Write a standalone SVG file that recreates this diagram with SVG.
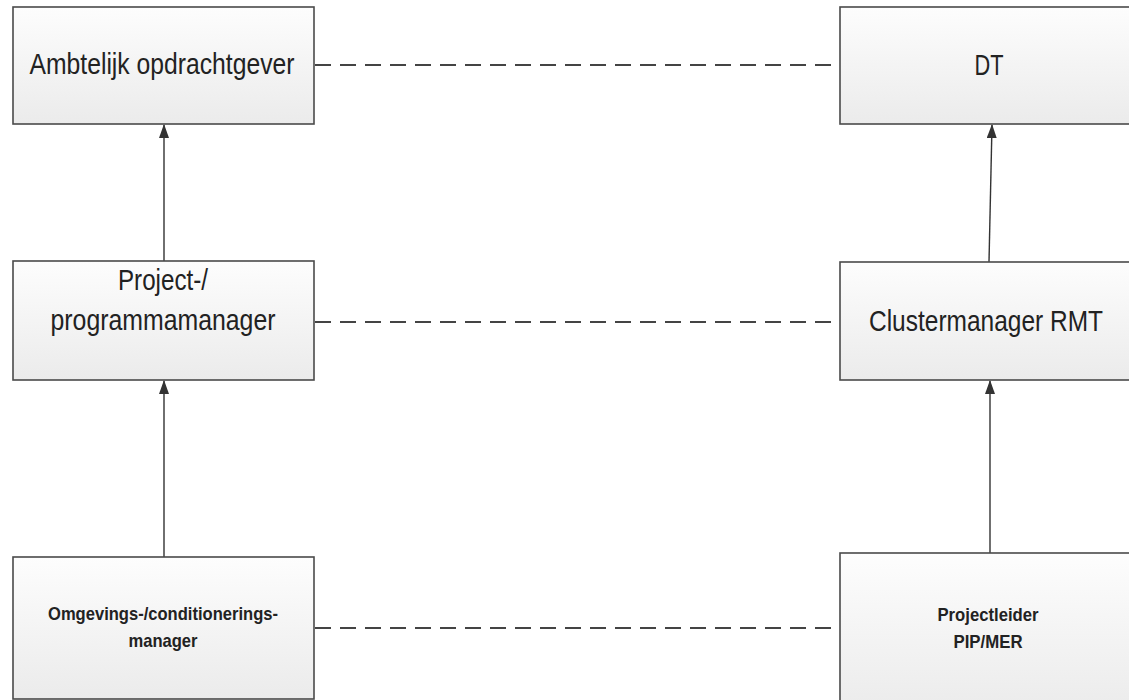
<svg xmlns="http://www.w3.org/2000/svg" width="1129" height="700" viewBox="0 0 1129 700">
<defs>
<linearGradient id="fillGrad" x1="0" y1="0" x2="0" y2="1">
<stop offset="0" stop-color="#fdfdfd"/>
<stop offset="1" stop-color="#ebebeb"/>
</linearGradient>
<marker id="arrow" markerWidth="14" markerHeight="10" refX="13" refY="5" orient="auto" markerUnits="userSpaceOnUse" viewBox="0 0 14 10">
<path d="M0,0 L14,5 L0,10 Z" fill="#333"/>
</marker>
</defs>
<style>
.box{fill:url(#fillGrad);stroke:#4a4a4a;stroke-width:1.6}
.lbl{font-family:"Liberation Sans",Arial,sans-serif;font-size:29px;fill:#222;text-anchor:middle}
.sml{font-family:"Liberation Sans",Arial,sans-serif;font-size:19px;font-weight:bold;fill:#222;text-anchor:middle}
.dash{stroke:#444;stroke-width:1.8;stroke-dasharray:16 9;fill:none}
.arr{stroke:#333;stroke-width:1.4;fill:none;marker-end:url(#arrow)}
</style>
<rect width="1129" height="700" fill="#ffffff"/>
<g id="connectors">
<line class="dash" x1="315" y1="65" x2="840" y2="65"/>
<line class="dash" x1="315" y1="322" x2="840" y2="322"/>
<line class="dash" x1="315" y1="628" x2="840" y2="628"/>
<line class="arr" x1="164" y1="261" x2="164" y2="125"/>
<line class="arr" x1="164" y1="557" x2="164" y2="381"/>
<line class="arr" x1="989" y1="262" x2="992" y2="125"/>
<line class="arr" x1="990" y1="553" x2="990" y2="381"/>
</g>
<g id="node-ambtelijk">
<rect class="box" x="13" y="7" width="301" height="117"/>
<text class="lbl" x="162" y="74" textLength="265" lengthAdjust="spacingAndGlyphs">Ambtelijk opdrachtgever</text>
</g>
<g id="node-dt">
<rect class="box" x="840" y="7" width="290" height="117"/>
<text class="lbl" x="989" y="75" textLength="29" lengthAdjust="spacingAndGlyphs">DT</text>
</g>
<g id="node-projectmanager">
<rect class="box" x="13" y="261" width="301" height="119"/>
<text class="lbl" x="163" y="290" textLength="90" lengthAdjust="spacingAndGlyphs">Project-/</text>
<text class="lbl" x="163" y="330" textLength="225" lengthAdjust="spacingAndGlyphs">programmamanager</text>
</g>
<g id="node-clustermanager">
<rect class="box" x="840" y="262" width="290" height="118"/>
<text class="lbl" x="986" y="331" font-size="27" textLength="234" lengthAdjust="spacingAndGlyphs">Clustermanager RMT</text>
</g>
<g id="node-omgevingsmanager">
<rect class="box" x="13" y="557" width="301" height="142"/>
<text class="sml" x="163" y="620" textLength="230" lengthAdjust="spacingAndGlyphs">Omgevings-/conditionerings-</text>
<text class="sml" x="163" y="647" textLength="69" lengthAdjust="spacingAndGlyphs">manager</text>
</g>
<g id="node-projectleider">
<rect class="box" x="840" y="553" width="290" height="160"/>
<text class="sml" x="988" y="621" textLength="101" lengthAdjust="spacingAndGlyphs">Projectleider</text>
<text class="sml" x="988" y="648" textLength="69" lengthAdjust="spacingAndGlyphs">PIP/MER</text>
</g>
</svg>
